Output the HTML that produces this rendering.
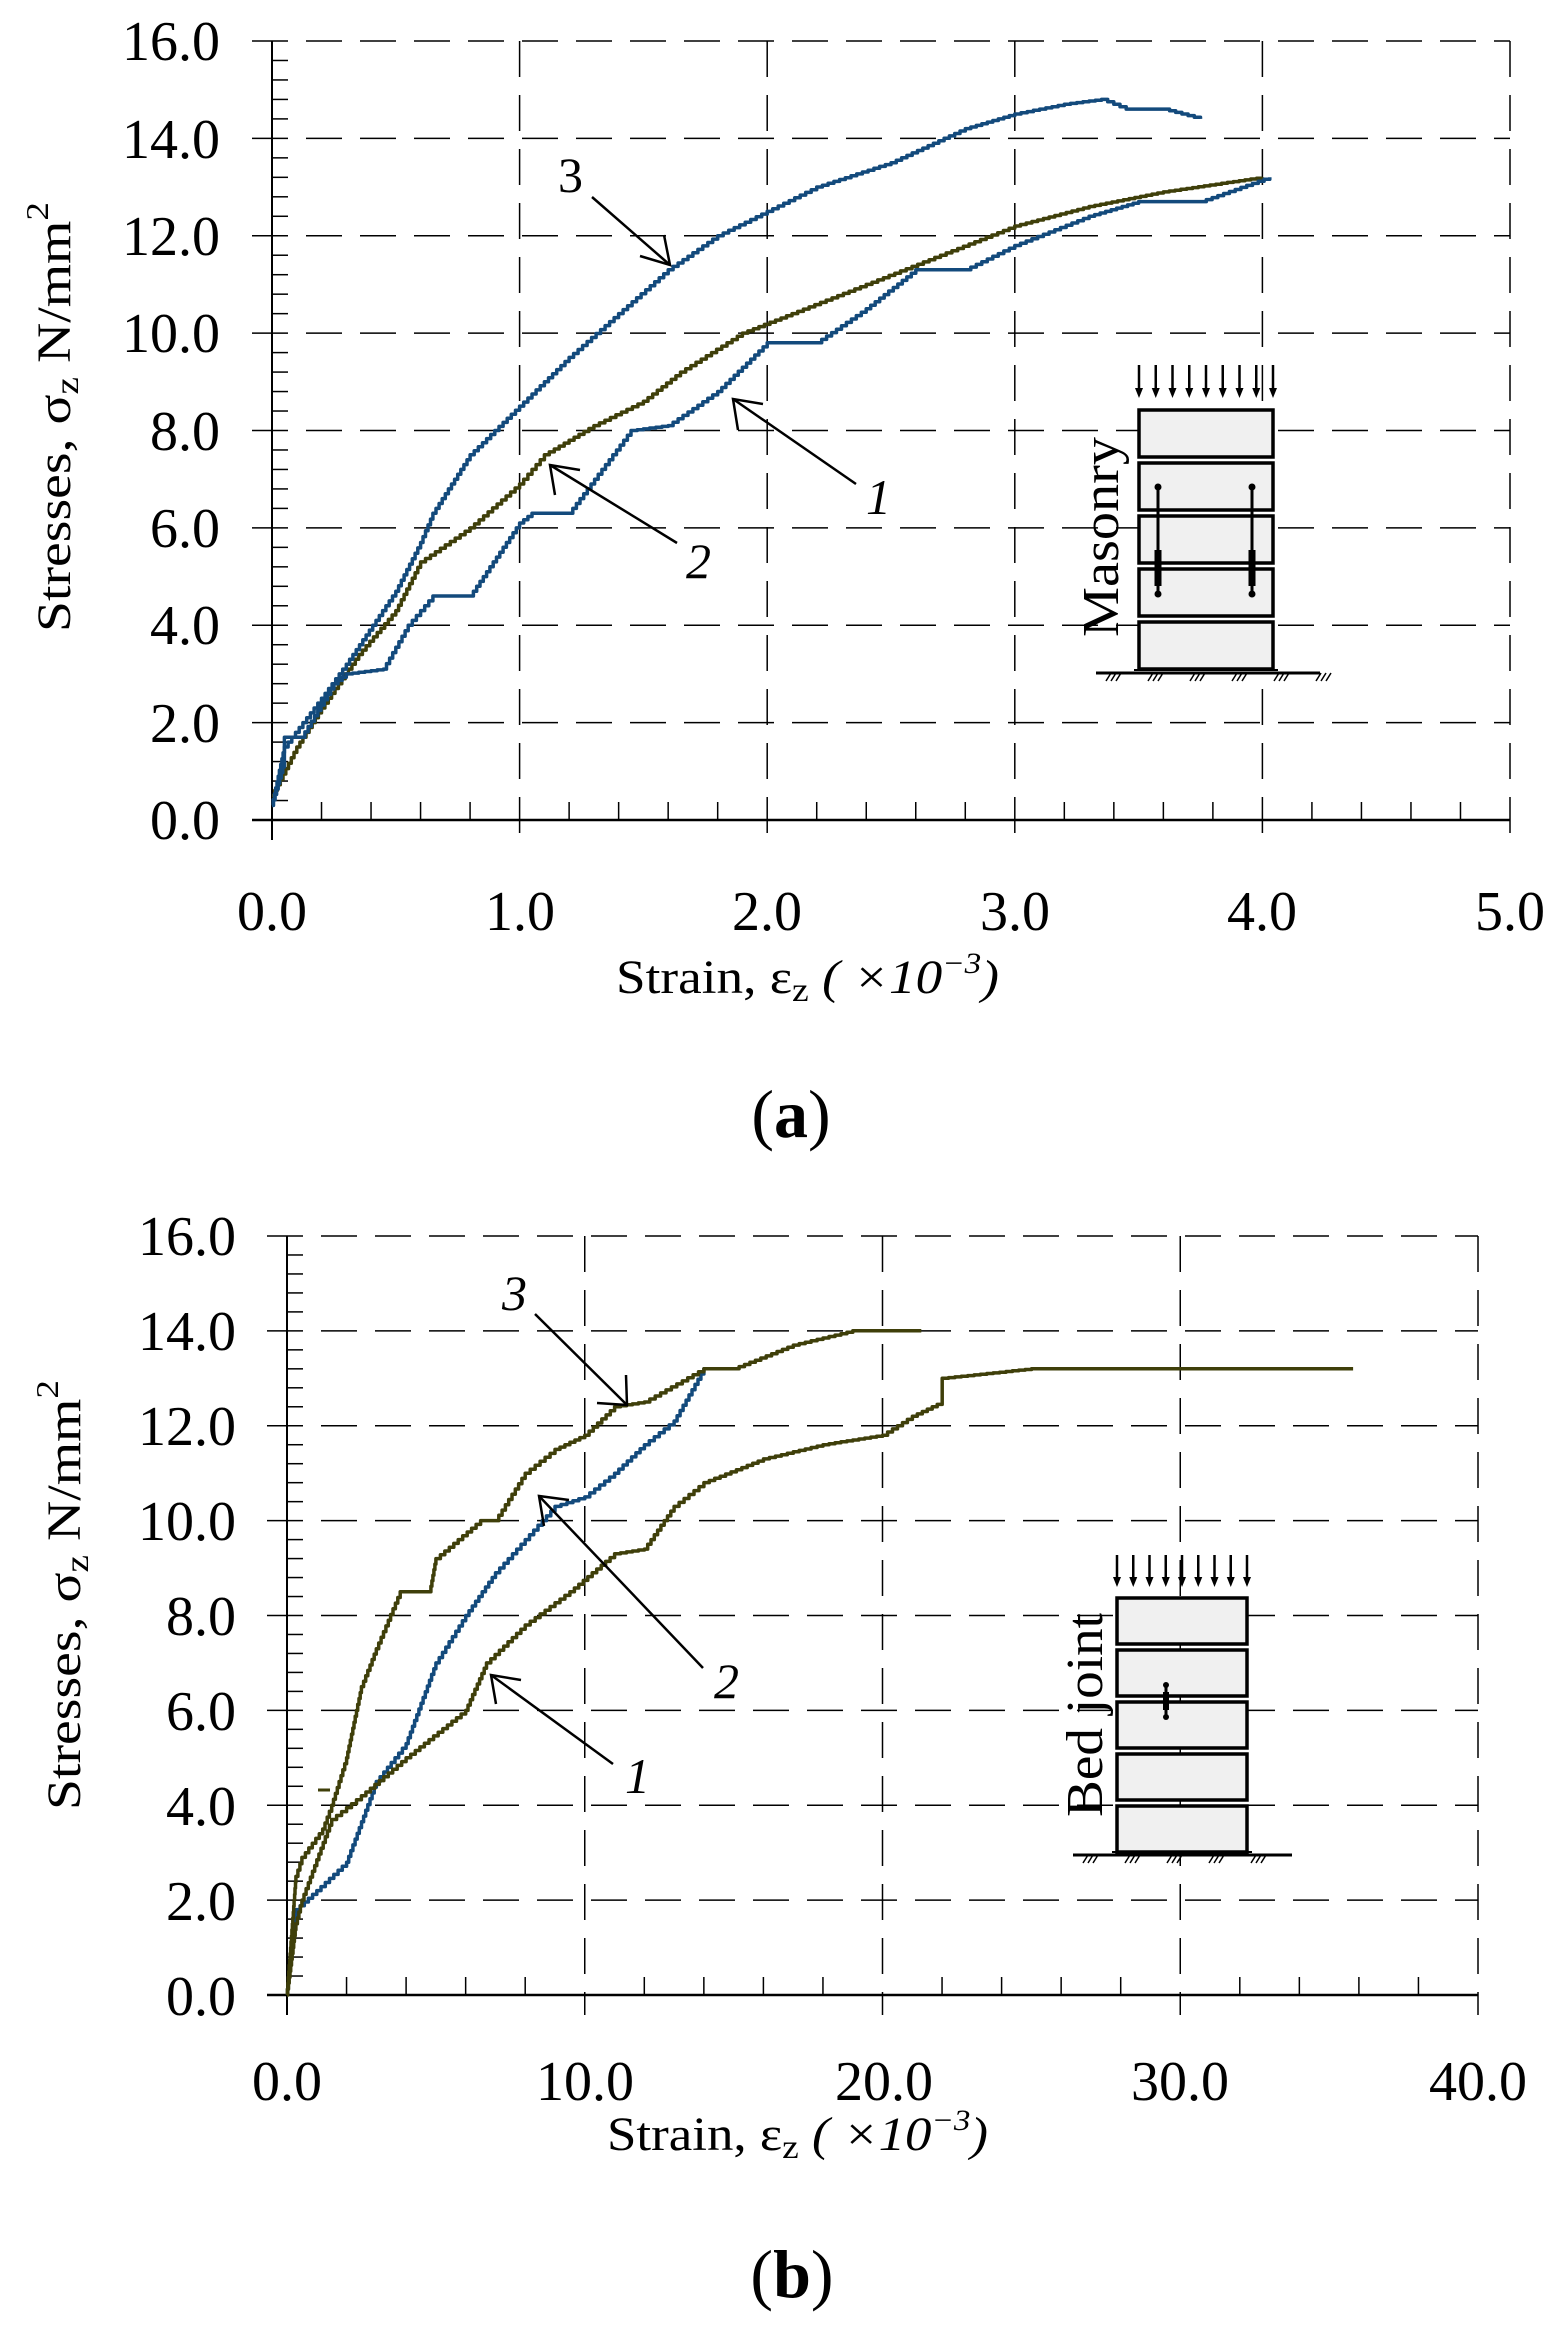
<!DOCTYPE html>
<html><head><meta charset="utf-8"><style>
html,body{margin:0;padding:0;background:#fff;}
svg{display:block;font-family:"Liberation Serif",serif;}
</style></head><body>
<svg id="s" width="1563" height="2331" viewBox="0 0 1563 2331" xmlns="http://www.w3.org/2000/svg">
<g id="grid" stroke="#000" fill="none"></g>

<!-- ===== Chart A ===== -->
<g font-size="56" text-anchor="end" fill="#000">
<text x="220" y="60">16.0</text><text x="220" y="158">14.0</text><text x="220" y="255">12.0</text>
<text x="220" y="352">10.0</text><text x="220" y="450">8.0</text><text x="220" y="547">6.0</text>
<text x="220" y="644">4.0</text><text x="220" y="742">2.0</text><text x="220" y="839">0.0</text>
</g>
<g font-size="56" text-anchor="middle" fill="#000">
<text x="272" y="930">0.0</text><text x="520" y="930">1.0</text><text x="767" y="930">2.0</text>
<text x="1015" y="930">3.0</text><text x="1262" y="930">4.0</text><text x="1510" y="930">5.0</text>
</g>
<text x="616" y="993" font-size="48" textLength="383" lengthAdjust="spacingAndGlyphs">Strain, ε<tspan font-size="34" dy="8">z</tspan><tspan dy="-8" font-style="italic"> ( ×10</tspan><tspan font-size="30" dy="-20" font-style="italic">−3</tspan><tspan dy="20" font-style="italic">)</tspan></text>
<text transform="translate(70,632) rotate(-90)" font-size="48" textLength="430" lengthAdjust="spacingAndGlyphs">Stresses, σ<tspan font-size="34" dy="8">z</tspan><tspan dy="-8"> N/mm</tspan><tspan font-size="32" dy="-22">2</tspan></text>
<text x="791" y="1137" font-size="68" text-anchor="middle">(<tspan font-weight="bold">a</tspan>)</text>

<!-- ===== Chart B ===== -->
<g font-size="56" text-anchor="end" fill="#000">
<text x="236" y="1255">16.0</text><text x="236" y="1350">14.0</text><text x="236" y="1445">12.0</text>
<text x="236" y="1540">10.0</text><text x="236" y="1635">8.0</text><text x="236" y="1730">6.0</text>
<text x="236" y="1825">4.0</text><text x="236" y="1920">2.0</text><text x="236" y="2015">0.0</text>
</g>
<g font-size="56" text-anchor="middle" fill="#000">
<text x="287" y="2100">0.0</text><text x="585" y="2100">10.0</text><text x="884" y="2100">20.0</text>
<text x="1180" y="2100">30.0</text><text x="1478" y="2100">40.0</text>
</g>
<text x="607" y="2150" font-size="48" textLength="381" lengthAdjust="spacingAndGlyphs">Strain, ε<tspan font-size="34" dy="8">z</tspan><tspan dy="-8" font-style="italic"> ( ×10</tspan><tspan font-size="30" dy="-20" font-style="italic">−3</tspan><tspan dy="20" font-style="italic">)</tspan></text>
<text transform="translate(80,1810) rotate(-90)" font-size="48" textLength="430" lengthAdjust="spacingAndGlyphs">Stresses, σ<tspan font-size="34" dy="8">z</tspan><tspan dy="-8"> N/mm</tspan><tspan font-size="32" dy="-22">2</tspan></text>
<text x="792" y="2297" font-size="68" text-anchor="middle">(<tspan font-weight="bold">b</tspan>)</text>

<!-- curves A: x px = 272 + 247.6*x ; y px = 820 - 48.69*y -->
<g fill="none" stroke-width="3.5" stroke-linejoin="round" id="curvesA"></g>
<g fill="none" stroke-width="3.5" stroke-linejoin="round" id="curvesB"></g>

<!-- annotations A -->
<g stroke="#000" stroke-width="2.5" fill="none">
<line x1="592" y1="197" x2="670" y2="265"/><polyline points="640,256 670,265 664,235"/>
<line x1="856" y1="484" x2="733" y2="399"/><polyline points="738,430 733,399 763,404"/>
<line x1="677" y1="543" x2="550" y2="465"/><polyline points="555,495 550,465 580,470"/>
<line x1="535" y1="1314" x2="627" y2="1405"/><polyline points="597,1403 627,1405 626,1375"/>
<line x1="703" y1="1668" x2="539" y2="1496"/><polyline points="544,1526 539,1496 569,1500"/>
<line x1="613" y1="1764" x2="491" y2="1675"/><polyline points="496,1704 491,1675 521,1680"/>
</g>
<g font-size="50" fill="#000">
<text x="558" y="192">3</text>
<text x="866" y="514" font-style="italic">1</text>
<text x="686" y="578" font-style="italic">2</text>
<text x="502" y="1310" font-style="italic">3</text>
<text x="714" y="1698" font-style="italic">2</text>
<text x="625" y="1793" font-style="italic">1</text>
</g>

<!-- inset A -->
<g id="insA"></g>
<text transform="translate(1118,637) rotate(-90)" font-size="52" textLength="200" lengthAdjust="spacingAndGlyphs">Masonry</text>
<g id="insB"></g>
<text transform="translate(1102,1817) rotate(-90)" font-size="52" textLength="204" lengthAdjust="spacingAndGlyphs">Bed joint</text>
</svg>
<script>
var NS="http://www.w3.org/2000/svg";
function el(p,t,a){var e=document.createElementNS(NS,t);for(var k in a)e.setAttribute(k,a[k]);p.appendChild(e);return e;}
var G=document.getElementById('grid');
function chart(x0,x1,y0,y1,nx,ny,nminx,nminy){
  // horizontal grid
  for(var i=0;i<=ny;i++){var y=y0+(y1-y0)*i/ny;
    if(i==0){el(G,'line',{x1:x0-20,y1:y,x2:x1,y2:y,'stroke-width':2.5});}
    else el(G,'line',{x1:x0-20,y1:y,x2:x1,y2:y,'stroke-width':1.5,'stroke-dasharray':'36,18'});}
  for(var i=0;i<=nx;i++){var x=x0+(x1-x0)*i/nx;
    if(i==0) el(G,'line',{x1:x,y1:y1,x2:x,y2:y0+20,'stroke-width':2});
    else el(G,'line',{x1:x,y1:y1,x2:x,y2:y0+20,'stroke-width':1.5,'stroke-dasharray':'36,18'});}
  var tx=nx*nminx; for(var i=1;i<tx;i++){if(i%nminx==0)continue;var x=x0+(x1-x0)*i/tx;el(G,'line',{x1:x,y1:y0,x2:x,y2:y0-18,'stroke-width':1.5});}
  var ty=ny*nminy; for(var i=1;i<ty;i++){if(i%nminy==0)continue;var y=y0+(y1-y0)*i/ty;el(G,'line',{x1:x0,y1:y,x2:x0+16,y2:y,'stroke-width':1.5});}
}
chart(272,1510,820,41,5,8,5,5);
chart(287,1478,1995,1236,4,8,5,5);
var BLUE="#134a7c",OLIVE="#3f3f0a";
function stairs(pts){var o=[];for(var i=0;i<pts.length;i++){var p=pts[i];if(i>0){var q=pts[i-1];var n=Math.max(2,Math.round(Math.hypot(p[0]-q[0],p[1]-q[1])/6));for(var k=1;k<n;k++){var t=k/n;var xx=q[0]+(p[0]-q[0])*t,yy=q[1]+(p[1]-q[1])*t;o.push([xx,o[o.length-1][1]]);o.push([xx,yy]);}o.push([p[0],o[o.length-1][1]]);}o.push(p);}return o;}
function curve(g,data,sx,sy,ox,oy,col){var pts=data.map(function(d){return [ox+sx*d[0],oy-sy*d[1]];});pts=stairs(pts);
 el(g,'polyline',{points:pts.map(function(p){return p[0].toFixed(1)+','+p[1].toFixed(1)}).join(' '),stroke:col});}
var A=document.getElementById('curvesA'),B=document.getElementById('curvesB');
var a3=[[0,0.3],[0.05,1.5],[0.2,2.5],[0.3,3.2],[0.5,4.7],[0.6,5.7],[0.65,6.3],[0.8,7.5],[1.0,8.5],[1.2,9.5],[1.4,10.4],[1.6,11.3],[1.8,12.0],[2.0,12.5],[2.2,13.0],[2.5,13.5],[2.8,14.2],[3.0,14.5],[3.2,14.7],[3.35,14.8],[3.45,14.6],[3.6,14.6],[3.75,14.4]];
var a2=[[0,0.5],[0.1,1.5],[0.2,2.3],[0.35,3.4],[0.5,4.3],[0.6,5.3],[0.8,6.0],[1.0,6.9],[1.1,7.5],[1.3,8.1],[1.5,8.6],[1.65,9.2],[1.9,10.0],[2.1,10.4],[2.4,11.0],[2.7,11.6],[3.0,12.2],[3.3,12.6],[3.6,12.9],[4.0,13.2]];
var a1=[[0,0.3],[0.05,1.2],[0.05,1.7],[0.12,1.7],[0.25,2.8],[0.3,3.0],[0.45,3.1],[0.55,4.0],[0.65,4.6],[0.8,4.6],[1.0,6.1],[1.05,6.3],[1.2,6.3],[1.45,8.0],[1.6,8.1],[1.8,8.8],[2.0,9.8],[2.2,9.8],[2.4,10.5],[2.6,11.3],[2.8,11.3],[3.0,11.8],[3.3,12.4],[3.5,12.7],[3.75,12.7],[4.03,13.2]];
curve(A,a2,247.6,48.69,272,820,OLIVE);curve(A,a1,247.6,48.69,272,820,BLUE);curve(A,a3,247.6,48.69,272,820,BLUE);
var b3=[[0,0],[0.3,2.5],[0.5,2.9],[1.2,3.5],[1.5,4.0],[2,5],[2.5,6.5],[3,7.3],[3.8,8.5],[4.8,8.5],[5,9.2],[6.5,10.0],[7,10.0],[8,11.0],[9,11.5],[10,11.8],[11,12.4],[12,12.5],[14,13.2],[15,13.2],[17,13.7],[19,14.0],[21.3,14.0]];
var b2=[[0,0],[0.3,1.8],[1,2.2],[2,2.8],[3,4.5],[4,5.3],[5,7.0],[6,8.0],[7,8.9],[8,9.6],[9,10.3],[10,10.5],[11,11.0],[12,11.6],[13,12.1],[14,13.2],[14.3,13.2]];
var b1=[[0,0],[0.3,1.5],[0.5,2.0],[1.5,3.7],[2.5,4.2],[4,5.0],[6,6.0],[6.7,7.0],[8,7.8],[9.5,8.5],[11,9.3],[12,9.4],[13,10.3],[14,10.8],[16,11.3],[18,11.6],[20,11.8],[21,12.2],[22,12.5],[22,13.0],[23.5,13.1],[25,13.2],[35.8,13.2]];
curve(B,b2,29.78,47.44,287,1995,BLUE);curve(B,b1,29.78,47.44,287,1995,OLIVE);curve(B,b3,29.78,47.44,287,1995,OLIVE);
el(B,'line',{x1:318,y1:1790,x2:330,y2:1790,stroke:OLIVE,'stroke-width':3});
function inset(id,xl,xr,tops,h,ay0,ay1,gy,gx0,gx1){
 var g=document.getElementById(id);
 for(var i=0;i<9;i++){var x=xl+(xr-xl)*i/8;el(g,'line',{x1:x,y1:ay0,x2:x,y2:ay1-8,stroke:'#000','stroke-width':2.5});
   el(g,'polygon',{points:(x-4)+','+(ay1-10)+' '+(x+4)+','+(ay1-10)+' '+x+','+ay1,fill:'#000'});}
 tops.forEach(function(t){el(g,'rect',{x:xl,y:t,width:xr-xl,height:h,fill:'#f0f0f0',stroke:'#000','stroke-width':3.5});});
 el(g,'line',{x1:gx0,y1:gy,x2:gx1,y2:gy,stroke:'#000','stroke-width':3});
 el(g,'line',{x1:xl-5,y1:gy-3,x2:xr+5,y2:gy-3,stroke:'#000','stroke-width':2});
 for(var x=gx0+10;x<gx1;x+=42){for(var k=0;k<3;k++)el(g,'line',{x1:x+k*5,y1:gy+8,x2:x+k*5+5,y2:gy,stroke:'#000','stroke-width':1.5});}
 return g;}
var ga=inset('insA',1139,1273,[410,463,516,569,622],47,365,398,673,1096,1320);
[1158,1252].forEach(function(x){el(ga,'line',{x1:x,y1:487,x2:x,y2:594,stroke:'#000','stroke-width':3});
 el(ga,'rect',{x:x-3.5,y:550,width:7,height:36,fill:'#000'});
 el(ga,'circle',{cx:x,cy:487,r:3.5,fill:'#000'});el(ga,'circle',{cx:x,cy:594,r:3.5,fill:'#000'});});
var gb=inset('insB',1117,1247,[1598,1650,1702,1754,1806],46,1555,1587,1855,1073,1292);
el(gb,'line',{x1:1166,y1:1685,x2:1166,y2:1717,stroke:'#000','stroke-width':3});
el(gb,'rect',{x:1163,y:1692,width:6,height:18,fill:'#000'});
el(gb,'circle',{cx:1166,cy:1685,r:3,fill:'#000'});el(gb,'circle',{cx:1166,cy:1717,r:3,fill:'#000'});
</script>
</body></html>
